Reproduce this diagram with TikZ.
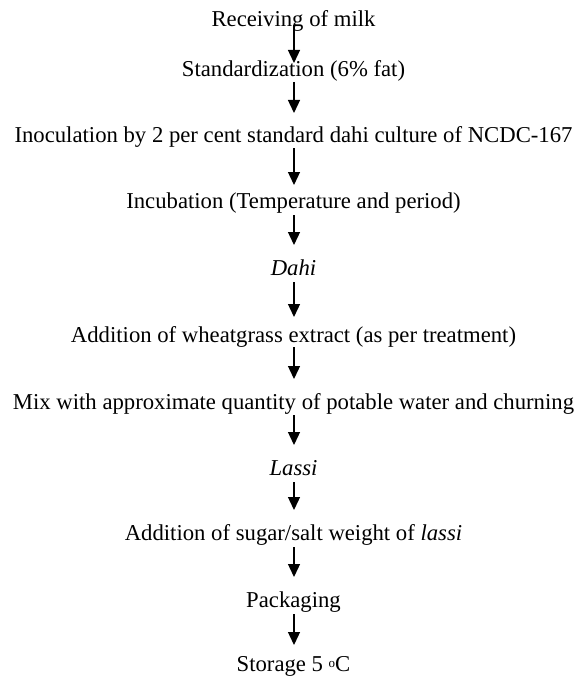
\documentclass[tikz,border=0pt]{standalone}
\usepackage{fontspec}
\setmainfont{Liberation Serif}
\usetikzlibrary{arrows.meta}
\begin{document}
\begin{tikzpicture}[x=1bp,y=-1bp,
  lbl/.style={anchor=base,inner sep=0pt,font=\fontsize{22.7bp}{27bp}\selectfont},
  arr/.style={line width=1.3bp,-{Triangle[length=13bp,width=12bp]}}]
\useasboundingbox (0,0) rectangle (577,677);
\node[lbl] (n1) at (293.5,27) {Receiving of milk};
\node[lbl] (n2) at (293.5,77) {Standardization (6\% fat)};
\node[lbl] (n3) at (293.5,142) {Inoculation by 2 per cent standard dahi culture of NCDC-167};
\node[lbl] (n4) at (293.5,208) {Incubation (Temperature and period)};
\node[lbl] (n5) at (293.5,275) {\itshape Dahi};
\node[lbl] (n6) at (293.5,342) {Addition of wheatgrass extract (as per treatment)};
\node[lbl] (n7) at (293.5,409) {Mix with approximate quantity of potable water and churning};
\node[lbl] (n8) at (293.5,475) {\itshape Lassi};
\node[lbl] (n9) at (293.5,540) {Addition of sugar/salt weight of \textit{lassi}};
\node[lbl] (n10) at (293.5,607) {Packaging};
\node[lbl] (n11) at (293.5,671) {Storage 5 \raisebox{4bp}{\fontsize{13bp}{13bp}\selectfont o}C};
\draw[arr] ([xshift=0.5bp,yshift=2bp]n1.base) -- ([xshift=0.5bp,yshift=14bp]n2.base);
\draw[arr] ([xshift=0.5bp,yshift=-5bp]n2.base) -- ([xshift=0.5bp,yshift=29bp]n3.base);
\draw[arr] ([xshift=0.5bp,yshift=-6bp]n3.base) -- ([xshift=0.5bp,yshift=23bp]n4.base);
\draw[arr] ([xshift=0.5bp,yshift=-7bp]n4.base) -- ([xshift=0.5bp,yshift=30bp]n5.base);
\draw[arr] ([xshift=0.5bp,yshift=-7bp]n5.base) -- ([xshift=0.5bp,yshift=25bp]n6.base);
\draw[arr] ([xshift=0.5bp,yshift=-5bp]n6.base) -- ([xshift=0.5bp,yshift=30bp]n7.base);
\draw[arr] ([xshift=0.5bp,yshift=-6bp]n7.base) -- ([xshift=0.5bp,yshift=30bp]n8.base);
\draw[arr] ([xshift=0.5bp,yshift=-7bp]n8.base) -- ([xshift=0.5bp,yshift=30bp]n9.base);
\draw[arr] ([xshift=0.5bp,yshift=-7bp]n9.base) -- ([xshift=0.5bp,yshift=30bp]n10.base);
\draw[arr] ([xshift=0.5bp,yshift=-7bp]n10.base) -- ([xshift=0.5bp,yshift=26bp]n11.base);
\end{tikzpicture}
\end{document}
